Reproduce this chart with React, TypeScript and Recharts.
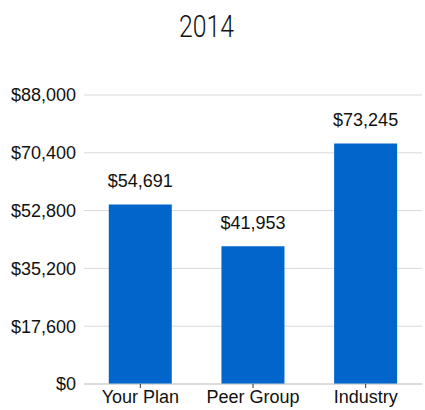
import React from "react";
import { Bar, BarChart, CartesianGrid, LabelList, XAxis, YAxis } from "recharts";

const categories = ["Your Plan", "Peer Group", "Industry"];
const costs = [54691, 41953, 73245];
const yTicks = [0, 17600, 35200, 52800, 70400, 88000];

const data = categories.map((name, i) => ({ name, cost: costs[i] }));

const money = (v: number) => "$" + v.toLocaleString("en-US");

export default function App() {
  return (
    <div style={{ position: "absolute", left: 0, top: 0, width: 425, height: 410, background: "#fff", fontFamily: "'Liberation Sans', Arial, sans-serif" }}>
      <div
        style={{
          position: "absolute",
          top: 8,
          left: -6,
          width: 425,
          textAlign: "center",
          fontFamily: "Roboto, sans-serif",
          fontWeight: 300,
          fontSize: 31,
          color: "#111",
          transform: "scaleX(0.8)",
        }}
      >
        2014
      </div>
      <BarChart width={425} height={410} data={data} margin={{ top: 95, right: 3, bottom: 0, left: 0 }} barCategoryGap="22%">
        <CartesianGrid vertical={false} stroke="#d9d9d9" />
        <XAxis
          dataKey="name"
          height={26}
          stroke="#cccccc"
          tickSize={4}
          tickLine={{ stroke: "#333" }}
          tick={{ fill: "#111", fontSize: 18 }}
        />
        <YAxis
          width={84}
          domain={[0, 88000]}
          ticks={yTicks}
          axisLine={false}
          tickLine={false}
          tick={{ fill: "#111", fontSize: 18 }}
          tickFormatter={money}
        />
        <Bar dataKey="cost" fill="#0066cc" isAnimationActive={false}>
          <LabelList dataKey="cost" position="top" offset={17} formatter={(v: number) => money(v)} fill="#111" fontSize={18} />
        </Bar>
      </BarChart>
    </div>
  );
}
